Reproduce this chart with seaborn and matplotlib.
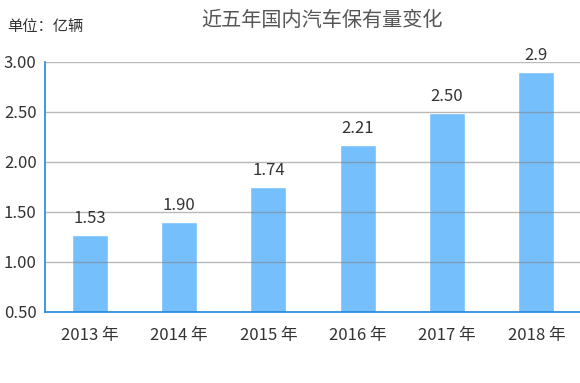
import pandas as pd
import matplotlib.pyplot as plt
import seaborn as sns

# 数据
years = ['2013 年', '2014 年', '2015 年', '2016 年', '2017 年', '2018 年']
heights = [1.27, 1.40, 1.75, 2.17, 2.49, 2.90]
labels = ['1.53', '1.90', '1.74', '2.21', '2.50', '2.9']
y_ticks = [0.5, 1.0, 1.5, 2.0, 2.5, 3.0]

df = pd.DataFrame({'年份': years, '保有量': heights})

sns.set_style("white")
plt.rcParams['font.family'] = ['Noto Sans CJK SC', 'DejaVu Sans']

fig = plt.figure(figsize=(5.8, 3.83), dpi=100)
ax = fig.add_axes([45 / 580, 1 - 312 / 383, 536 / 580, 250 / 383])

sns.barplot(data=df, x='年份', y='保有量', color='#76bffd', saturation=1,
            width=0.4, ax=ax)

ax.set_ylim(0.5, 3.0)
ax.set_xlim(-0.5, 5.5)
ax.set_yticks(y_ticks)
ax.set_yticklabels([f'{v:.2f}' for v in y_ticks])
ax.grid(axis='y', color='#808080', alpha=0.55, linewidth=1)
ax.set_axisbelow(False)
for p in ax.patches:
    p.set_zorder(1)

for i, (h, t) in enumerate(zip(heights, labels)):
    ax.text(i, h + 0.075, t, ha='center', va='bottom', fontsize=12, color='#333333')

ax.set_xlabel('')
ax.set_ylabel('')
ax.tick_params(axis='both', length=0, labelsize=12, colors='#333333')
ax.tick_params(axis='x', pad=11)
ax.tick_params(axis='y', pad=6)
for s in ['top', 'right']:
    ax.spines[s].set_visible(False)
for s in ['left', 'bottom']:
    ax.spines[s].set_color('#1e88e5')
    ax.spines[s].set_linewidth(1.2)

fig.text(322 / 580, 1 - 20 / 383, '近五年国内汽车保有量变化', ha='center', va='center',
         fontsize=14.5, color='#555555')
fig.text(7 / 580, 1 - 26 / 383, '单位：亿辆', ha='left', va='center',
         fontsize=11, color='#333333')

fig.savefig('out.png', dpi=100)
